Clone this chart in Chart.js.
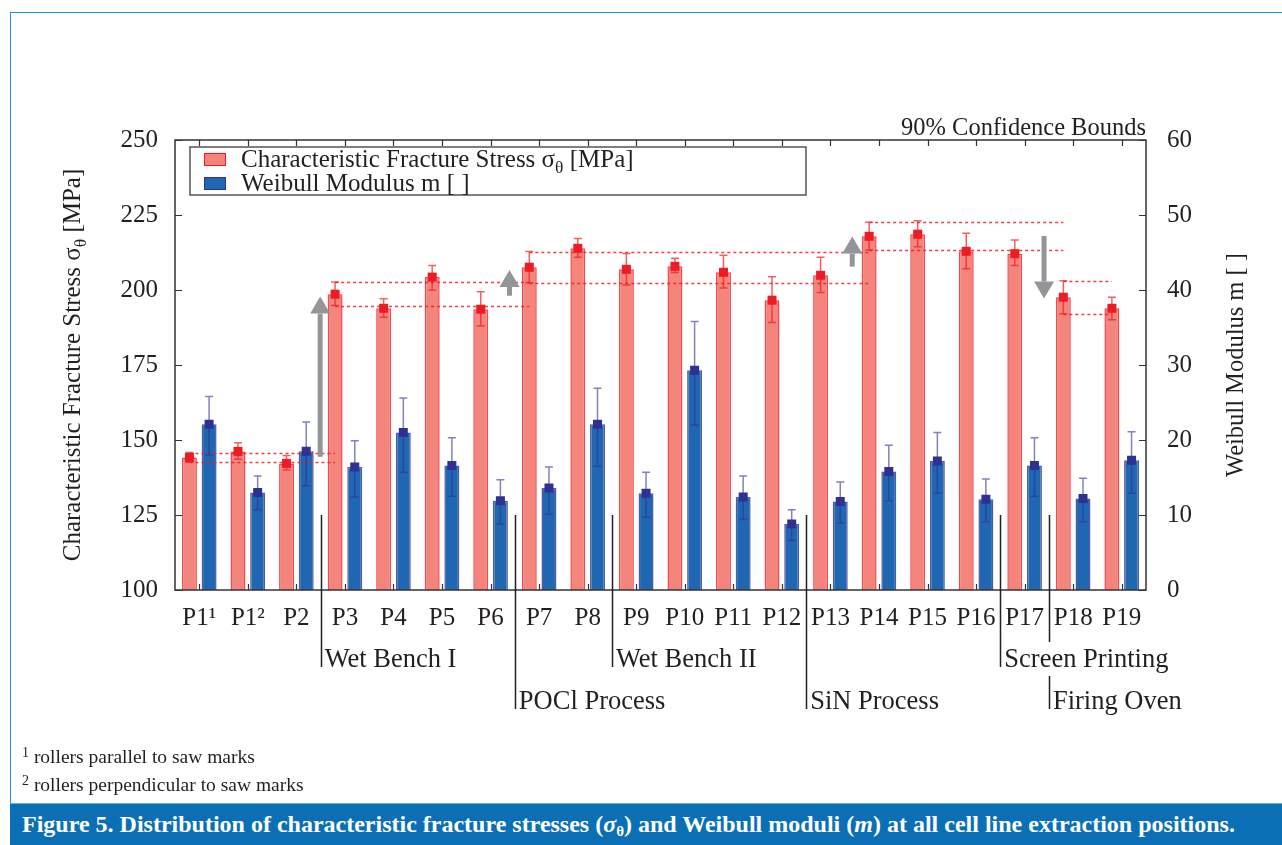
<!DOCTYPE html>
<html>
<head>
<meta charset="utf-8">
<script src="https://cdn.jsdelivr.net/npm/chart.js@4.4.1/dist/chart.umd.min.js"></script>
<style>
  body { margin: 0; background: #fff; width: 1282px; height: 845px; overflow: hidden; position: relative; font-family: 'Liberation Serif', serif; color: #231f20; }
  #frame { position: absolute; left: 10px; top: 12px; width: 1272px; height: 791px; border-left: 1px solid #2b8fd6; border-top: 1px solid #2b8fd6; box-sizing: border-box; }
  #chart { position: absolute; left: 0; top: 0; }
  .note { position: absolute; left: 22px; font-size: 19.5px; line-height: 20px; white-space: nowrap; }
  .note sup { font-size: 14px; vertical-align: 6px; line-height: 0; }
  #caption { position: absolute; left: 10px; top: 803px; width: 1272px; height: 42px; background: #0b6fb5; border-top: 1px solid #6fb0e0; box-sizing: border-box; color: #fff; font-weight: bold; font-size: 24px; line-height: 40px; padding-left: 12px; white-space: nowrap; }
  #caption sub { font-size: 15px; vertical-align: -4px; line-height: 0; }
</style>
</head>
<body>
<div id="frame"></div>
<canvas id="chart" width="1282" height="800"></canvas>
<div class="note" style="top:747px"><sup>1</sup> rollers parallel to saw marks</div>
<div class="note" style="top:775px"><sup>2</sup> rollers perpendicular to saw marks</div>
<div id="caption">Figure 5. Distribution of characteristic fracture stresses (<i>σ</i><sub>θ</sub>) and Weibull moduli (<i>m</i>) at all cell line extraction positions.</div>
<script>
// extraction positions along the cell line
const categories = ['P1¹', 'P1²', 'P2', 'P3', 'P4', 'P5', 'P6', 'P7', 'P8', 'P9', 'P10', 'P11', 'P12', 'P13', 'P14', 'P15', 'P16', 'P17', 'P18', 'P19']

// characteristic fracture stress [MPa] with 90% confidence bounds
const stress = [144.2, 146.2, 142.2, 198.6, 193.9, 204.3, 193.6, 207.6, 213.9, 206.9, 207.9, 205.9, 196.6, 204.9, 217.9, 218.6, 212.9, 212.1, 197.6, 193.9]
const stressLow = [142.6, 143.6, 140.0, 194.8, 190.9, 200.0, 188.0, 202.4, 210.9, 201.7, 205.8, 200.7, 189.2, 199.2, 213.3, 214.4, 207.1, 208.2, 192.1, 190.1]
const stressHigh = [145.8, 149.1, 144.8, 202.7, 197.1, 208.2, 199.4, 212.8, 217.2, 212.2, 210.6, 211.6, 204.4, 210.9, 222.6, 223.1, 218.9, 216.7, 203.1, 197.6]

// Weibull modulus m with 90% confidence bounds
const modulus = [22.1, 13.0, 18.5, 16.4, 21.0, 16.6, 11.9, 13.6, 22.1, 12.9, 29.3, 12.4, 8.8, 11.8, 15.8, 17.2, 12.1, 16.6, 12.2, 17.3]
const modulusLow = [18.0, 10.7, 13.9, 12.4, 15.7, 12.5, 8.8, 10.1, 16.5, 9.7, 22.0, 9.4, 6.6, 8.9, 11.9, 12.9, 9.1, 12.5, 9.1, 12.9]
const modulusHigh = [25.8, 15.2, 22.4, 19.9, 25.6, 20.3, 14.7, 16.4, 26.9, 15.7, 35.8, 15.2, 10.7, 14.4, 19.3, 21.0, 14.8, 20.3, 14.9, 21.1]

// stress bounds of a reference position carried forward to a later one
const refFrom = [0, 3, 7, 14, 18]
const refTo = [3, 7, 14, 18, 19]

// significant steps in stress (position on the category axis, from -> to in MPa)
const arrowAt = [2.49, 6.39, 13.45, 17.4]
const arrowFrom = [144.4, 198.1, 207.8, 218.0]
const arrowTo = [197.8, 206.7, 217.8, 197.2]

// process steps, starting before the given position
const processNames = ['Wet Bench I', 'POCl Process', 'Wet Bench II', 'SiN Process', 'Screen Printing', 'Firing Oven']
const processStart = [3, 7, 9, 13, 17, 18]
const processRow = [1, 2, 1, 2, 1, 2]

const FONT = "'Liberation Serif', serif"
const INK = '#231f20'
const RED = '#ed1c24'
const NAVY = '#2e3192'

// text with a subscript part
function richText(ctx, parts, x, y, size, align) {
	let total = 0
	parts.forEach((p) => {
		ctx.font = (p.sub ? size * 0.7 : size) + 'px ' + FONT
		p.w = ctx.measureText(p.t).width
		total += p.w
	})
	let cx = align === 'center' ? x - total / 2 : x
	ctx.textBaseline = 'alphabetic'
	ctx.textAlign = 'left'
	parts.forEach((p) => {
		ctx.font = (p.sub ? size * 0.7 : size) + 'px ' + FONT
		ctx.fillText(p.t, cx, p.sub ? y + size * 0.25 : y)
		cx += p.w
	})
}

const overlay = {
	id: 'overlay',
	afterDatasetsDraw(chart) {
		const { ctx, scales } = chart
		const x = scales.x
		const y = scales.y
		const y2 = scales.y2
		const redMeta = chart.getDatasetMeta(0)
		const blueMeta = chart.getDatasetMeta(1)

		// dotted reference bounds
		ctx.save()
		ctx.strokeStyle = 'rgba(237,28,36,0.85)'
		ctx.lineWidth = 1.5
		ctx.setLineDash([3, 3])
		refFrom.forEach((f, k) => {
			const x0 = redMeta.data[f].x
			const x1 = redMeta.data[refTo[k]].x
			;[stressLow[f], stressHigh[f]].forEach((v) => {
				const py = Math.round(y.getPixelForValue(v)) + 0.5
				ctx.beginPath()
				ctx.moveTo(x0, py)
				ctx.lineTo(x1, py)
				ctx.stroke()
			})
		})
		ctx.restore()

		// error bars and markers
		const drawSeries = (meta, scale, val, lo, hi, lineColor, fill) => {
			ctx.save()
			ctx.strokeStyle = lineColor
			ctx.lineWidth = 1.5
			meta.data.forEach((bar, i) => {
				const px = bar.x
				const pl = scale.getPixelForValue(lo[i])
				const ph = scale.getPixelForValue(hi[i])
				ctx.beginPath()
				ctx.moveTo(px, pl)
				ctx.lineTo(px, ph)
				ctx.moveTo(px - 4, ph)
				ctx.lineTo(px + 4, ph)
				ctx.moveTo(px - 4, pl)
				ctx.lineTo(px + 4, pl)
				ctx.stroke()
			})
			ctx.fillStyle = fill
			meta.data.forEach((bar, i) => {
				const py = scale.getPixelForValue(val[i])
				ctx.fillRect(bar.x - 4.5, py - 4.5, 9, 9)
			})
			ctx.restore()
		}
		drawSeries(redMeta, y, stress, stressLow, stressHigh, 'rgba(237,28,36,0.7)', RED)
		drawSeries(blueMeta, y2, modulus, modulusLow, modulusHigh, 'rgba(46,49,146,0.6)', NAVY)

		// step arrows
		ctx.save()
		ctx.fillStyle = '#939598'
		arrowAt.forEach((pos, k) => {
			const px = x.getPixelForValue(pos)
			const p0 = y.getPixelForValue(arrowFrom[k])
			const p1 = y.getPixelForValue(arrowTo[k])
			const dir = p1 < p0 ? -1 : 1
			const head = 17
			const base = p1 - dir * head
			ctx.fillRect(px - 2.5, Math.min(p0, base), 5, Math.abs(base - p0))
			ctx.beginPath()
			ctx.moveTo(px, p1)
			ctx.lineTo(px - 10, base)
			ctx.lineTo(px + 10, base)
			ctx.closePath()
			ctx.fill()
		})
		ctx.restore()
	},
	afterDraw(chart) {
		const { ctx, chartArea: a, scales } = chart
		const x = scales.x
		const y = scales.y
		const y2 = scales.y2

		// plot frame and inward ticks
		ctx.save()
		ctx.strokeStyle = '#333'
		ctx.lineWidth = 1.5
		ctx.strokeRect(a.left, a.top, a.right - a.left, a.bottom - a.top)
		ctx.lineWidth = 1.2
		ctx.beginPath()
		categories.forEach((c, i) => {
			const px = Math.round(x.getPixelForValue(i)) + 0.5
			ctx.moveTo(px, a.top)
			ctx.lineTo(px, a.top + 6)
			ctx.moveTo(px, a.bottom)
			ctx.lineTo(px, a.bottom - 6)
		})
		y.ticks.forEach((t) => {
			const py = Math.round(y.getPixelForValue(t.value)) + 0.5
			ctx.moveTo(a.left, py)
			ctx.lineTo(a.left + 7, py)
		})
		y2.ticks.forEach((t) => {
			const py = Math.round(y2.getPixelForValue(t.value)) + 0.5
			ctx.moveTo(a.right, py)
			ctx.lineTo(a.right - 7, py)
		})
		ctx.stroke()
		ctx.restore()

		// process step brackets under the axis
		ctx.save()
		ctx.fillStyle = INK
		ctx.strokeStyle = '#231f20'
		ctx.lineWidth = 1.5
		ctx.font = '26.5px ' + FONT
		const rowY = { 1: 667, 2: 709 }
		const spans = processNames.map((name, k) => {
			const bx = (x.getPixelForValue(processStart[k] - 1) + x.getPixelForValue(processStart[k])) / 2
			return { name, bx, row: processRow[k], w: ctx.measureText(name).width }
		})
		const top = y.getPixelForValue(125)
		spans.forEach((s) => {
			const bx = Math.round(s.bx) + 0.5
			ctx.beginPath()
			const crossed = s.row === 2 && spans.some((o) => o.row === 1 && o.bx < s.bx && o.bx + 4 + o.w > s.bx)
			if (crossed) {
				ctx.moveTo(bx, top)
				ctx.lineTo(bx, rowY[1] - 25)
				ctx.moveTo(bx, rowY[1] + 9)
				ctx.lineTo(bx, rowY[2])
			} else {
				ctx.moveTo(bx, top)
				ctx.lineTo(bx, rowY[s.row])
			}
			ctx.stroke()
			ctx.textAlign = 'left'
			ctx.textBaseline = 'alphabetic'
			ctx.fillText(s.name, s.bx + 4, rowY[s.row])
		})
		ctx.restore()

		// axis titles
		ctx.save()
		ctx.fillStyle = INK
		ctx.translate(80, 365)
		ctx.rotate(-Math.PI / 2)
		richText(ctx, [{ t: 'Characteristic Fracture Stress σ' }, { t: 'θ', sub: true }, { t: ' [MPa]' }], 0, 0, 25, 'center')
		ctx.restore()
		ctx.save()
		ctx.fillStyle = INK
		ctx.translate(1243, 365)
		ctx.rotate(-Math.PI / 2)
		richText(ctx, [{ t: 'Weibull Modulus m [ ]' }], 0, 0, 24.5, 'center')
		ctx.restore()

		// note above the plot
		ctx.save()
		ctx.fillStyle = INK
		ctx.font = '24.5px ' + FONT
		ctx.textAlign = 'right'
		ctx.textBaseline = 'alphabetic'
		ctx.fillText('90% Confidence Bounds', a.right, 135)
		ctx.restore()

		// legend box
		ctx.save()
		ctx.fillStyle = '#fff'
		ctx.fillRect(190, 147, 616, 48)
		ctx.strokeStyle = '#555'
		ctx.lineWidth = 1.5
		ctx.strokeRect(190, 147, 616, 48)
		ctx.fillStyle = '#f4837a'
		ctx.fillRect(204, 153, 21, 12)
		ctx.strokeStyle = RED
		ctx.lineWidth = 1
		ctx.strokeRect(204.5, 153.5, 21, 12)
		ctx.fillStyle = '#1f67b1'
		ctx.fillRect(204, 177, 21, 12)
		ctx.strokeStyle = NAVY
		ctx.strokeRect(204.5, 177.5, 21, 12)
		ctx.fillStyle = INK
		richText(ctx, [{ t: 'Characteristic Fracture Stress σ' }, { t: 'θ', sub: true }, { t: ' [MPa]' }], 241, 167, 25, 'left')
		richText(ctx, [{ t: 'Weibull Modulus m [ ]' }], 241, 191, 25, 'left')
		ctx.restore()
	}
}

const tickFont = { family: FONT, size: 25 }

new Chart(document.getElementById('chart').getContext('2d'), {
	type: 'bar',
	data: {
		labels: categories,
		datasets: [
			{
				label: 'Characteristic Fracture Stress σθ [MPa]',
				data: stress,
				yAxisID: 'y',
				backgroundColor: 'rgba(242,120,110,0.9)',
				borderColor: 'rgba(237,28,36,0.8)',
				borderWidth: 1.5,
				categoryPercentage: 0.81,
				barPercentage: 0.76
			},
			{
				label: 'Weibull Modulus m [ ]',
				data: modulus,
				yAxisID: 'y2',
				backgroundColor: '#1f67b1',
				borderColor: 'rgba(60,70,160,0.9)',
				borderWidth: 1.5,
				categoryPercentage: 0.81,
				barPercentage: 0.76
			}
		]
	},
	options: {
		responsive: false,
		animation: false,
		layout: { padding: { top: 140, left: 0, right: 0, bottom: 0 } },
		plugins: {
			legend: { display: false },
			tooltip: { enabled: false }
		},
		scales: {
			x: {
				grid: { display: false, drawTicks: false },
				border: { display: false },
				ticks: { font: tickFont, color: INK, padding: 13, maxRotation: 0, autoSkip: false },
				afterFit(s) { s.height = 210 }
			},
			y: {
				position: 'left',
				min: 100,
				max: 250,
				grid: { display: false, drawTicks: false },
				border: { display: false },
				ticks: { stepSize: 25, font: tickFont, color: INK, padding: 17 },
				afterFit(s) { s.width = 175 }
			},
			y2: {
				position: 'right',
				min: 0,
				max: 60,
				grid: { display: false, drawTicks: false },
				border: { display: false },
				ticks: { stepSize: 10, font: tickFont, color: INK, padding: 21 },
				afterFit(s) { s.width = 136 }
			}
		}
	},
	plugins: [overlay]
})
</script>
</body>
</html>
